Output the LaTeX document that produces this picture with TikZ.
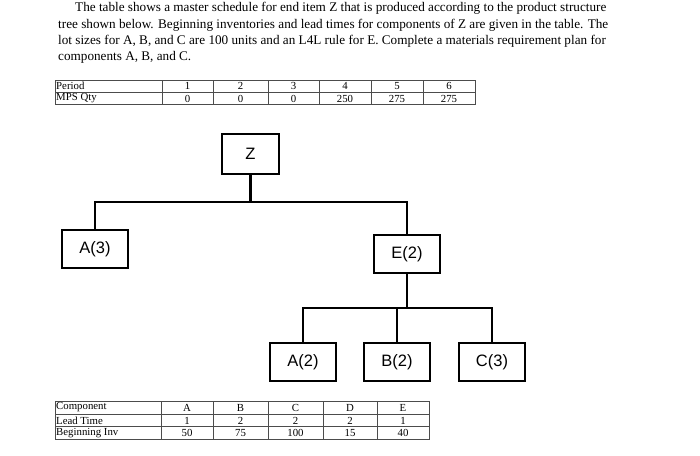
\documentclass[tikz,border=0pt]{standalone}
\usepackage{fontspec}
\setmainfont{Liberation Serif}
\newfontfamily\boxfont{Liberation Sans}
\begin{document}
\begin{tikzpicture}[x=1pt,y=-1pt,
  para/.style={anchor=base west,inner sep=0,font=\fontsize{13.2}{15}\selectfont},
  cell/.style={inner sep=0,font=\fontsize{10.8}{12}\selectfont},
  lcell/.style={cell,anchor=west,xshift=1pt},
  grid/.style={draw=black!70,line width=0.6pt},
  pbox/.style={draw,line width=2.4pt,minimum width=66pt,minimum height=38pt,inner sep=0,font=\boxfont\fontsize{16.5}{18}\selectfont},
  link/.style={line width=2.8pt}]
\useasboundingbox (0,0) rectangle (700,455);
% paragraph
\node[para] (l1) at (75,12) {The table shows a master schedule for end item Z that is produced according to the product structure};
\node[para] (l2) at (58,28) {tree shown below. Beginning inventories and lead times for components of Z are given in the table. The};
\node[para] (l3) at (58,44) {lot sizes for A, B, and C are 100 units and an L4L rule for E. Complete a materials requirement plan for};
\node[para] (l4) at (58,60) {components A, B, and C.};
% top table
\draw[grid] (55,80) rectangle (475,104);
\draw[grid] (55,92) -- (475,92);
\foreach \x in {162,213,268,319,371,423} \draw[grid] (\x,80) -- (\x,104);
\node[lcell] (p) at (55,86) {Period};
\node[lcell] (m) at (55,98.5) {MPS Qty};
\foreach \c/\a/\b [count=\i] in {187.5/1/0,240.5/2/0,293.5/3/0,345/4/250,397/5/275,449/6/275}{
  \node[cell] (pc\i) at (\c,86) {\a};
  \node[cell] (mc\i) at (\c,98.5) {\b};}
% tree
\node[pbox,minimum width=57pt,minimum height=40pt] (z) at (250.5,154) {Z};
\node[pbox] (a3) at (95,249) {A(3)};
\node[pbox] (e2) at (407,254) {E(2)};
\node[pbox] (a2) at (303,362) {A(2)};
\node[pbox] (b2) at (397,362) {B(2)};
\node[pbox] (c3) at (492,362) {C(3)};
\coordinate (j1) at (250.5,202);
\coordinate (j2) at (407,308);
\draw[link] (z.south) -- (j1);
\draw[link] (a3.north) |- (j1) -| (e2.north);
\draw[link] (e2.south) -- (j2);
\draw[link] (a2.north) |- (j2) -| (c3.north);
\draw[link] (b2.north) -- (b2.north |- j2);
% bottom table
\draw[grid] (55,401) rectangle (429,439);
\draw[grid] (55,414) -- (429,414);
\draw[grid] (55,426.5) -- (429,426.5);
\foreach \x in {161,213,268,323,377} \draw[grid] (\x,401) -- (\x,439);
\node[lcell] (r1) at (55,407.5) {Component};
\node[lcell] (r2) at (55,420.5) {Lead Time};
\node[lcell] (r3) at (55,433) {Beginning Inv};
\foreach \c/\a/\b/\d [count=\i] in {187/A/1/50,240.5/B/2/75,295.5/C/2/100,350/D/2/15,403/E/1/40}{
  \node[cell] (ca\i) at (\c,407.5) {\a};
  \node[cell] (cb\i) at (\c,420.5) {\b};
  \node[cell] (cc\i) at (\c,433) {\d};}
\end{tikzpicture}
\end{document}
